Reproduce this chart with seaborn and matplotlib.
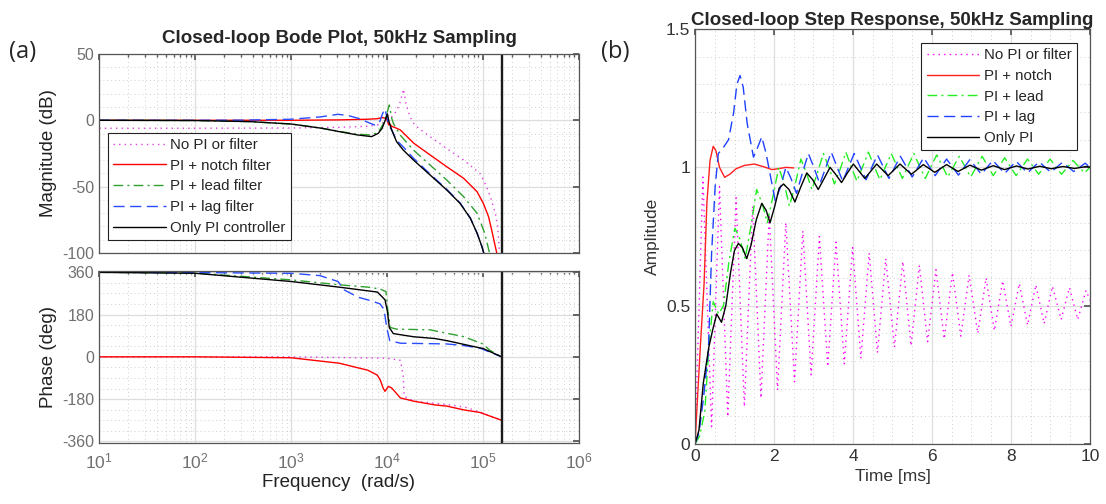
import matplotlib
matplotlib.use("Agg")
import matplotlib.pyplot as plt
import seaborn as sns
from matplotlib.ticker import LogLocator, MultipleLocator, NullFormatter

# ---------------- Bode data (frequency in rad/s) ----------------
nyquist = 157080.0  # pi * 50 kHz

# magnitude (dB)
w_mag_none = [10, 100, 1000, 3162, 6310, 7943, 10000, 11220, 12589, 13804, 14894,
              15849, 17378, 19498, 23988, 28184, 41687, 63096, 93325, 109648,
              123027, 134896, 142889, 147911, 148936]
mag_none = [-6, -6, -5.8, -5.3, -4.5, -3.5, -1, 2.5, 7, 14, 23.5, 12, 2.7, -3.6,
            -8.6, -12.3, -21.1, -29.9, -40, -50, -60, -70, -80, -95, -100]

w_mag_notch = [10, 100, 1000, 3162, 6310, 7943, 8913, 9772, 10000, 10471, 10715,
               11220, 12162, 13804, 19055, 28184, 42073, 63096, 87096, 101391,
               114815, 125893, 134896, 139958]
mag_notch = [0, 0, 0, 0.3, 0.8, 1.2, 2, 1.5, 0.2, -3.5, -3, -4.5, -5.5, -7.3,
             -17.3, -26.1, -35, -43.7, -53.8, -62.6, -72.6, -85, -95, -100]

w_mag_lead = [10, 100, 370, 1000, 2089, 3162, 4898, 6918, 8128, 9120, 9772, 10593,
              11220, 11668, 13709, 18880, 28184, 42073, 63096, 87096, 104713, 117490]
mag_lead = [0, -0.2, -1, -2.8, -6, -8.3, -10.5, -11, -9, -3, 3, 11.5, 1.5, -2.3,
            -11, -22.4, -33.7, -45, -57.6, -70, -85, -100]

w_mag_lag = [10, 100, 300, 1000, 2000, 3090, 3981, 5012, 6310, 7413, 8318, 9120,
             9550, 10000, 10471, 11220, 12589, 14791, 18880, 28184, 42073, 57943,
             74131, 87096, 97724, 102329]
mag_lag = [0, 0, 0.1, 0.8, 2.5, 4.5, 3.5, 1.5, -1.5, -3.5, -2, 6, 8.5, 2, -4,
           -7.3, -15, -20, -28.5, -40.5, -52, -62.3, -73.6, -85, -95, -100]

w_mag_pi = [10, 100, 370, 1000, 2089, 3162, 4898, 6918, 8128, 8913, 9550, 10116,
            10500, 11220, 12589, 14791, 18880, 28184, 42073, 57943, 74131, 87096,
            97724, 102329]
mag_pi = [0, -0.2, -1, -2.8, -6, -8.5, -11, -12.3, -9.8, -6, -0.5, 4.8, -1, -7.3,
          -16, -22.4, -29.9, -41.2, -52.5, -62.6, -73.8, -85, -95, -100]

# phase (deg)
w_ph_none = [10, 100, 1000, 10000, 13804, 14791, 15136, 19055, 42073, 67608,
             100000, 157080]
ph_none = [0, 0, 0, -6, -15, -80, -168, -189, -203, -216, -240, -270]

w_ph_notch = [10, 100, 1000, 3162, 6310, 7943, 8511, 9120, 9550, 10351, 11220,
              13804, 19055, 31623, 42073, 63096, 93325, 151356, 157080]
ph_notch = [0, 0, -4, -27, -57, -78, -98, -133, -147, -126, -133, -175, -189,
            -205, -210, -226, -237, -268, -270]

w_ph_lead = [10, 100, 1000, 3162, 6310, 8511, 9772, 10233, 10839, 12589, 28184,
             63096, 100000, 119399, 157080]
ph_lead = [360, 357, 328, 307, 297, 289, 278, 194, 125, 118, 115, 86, 55, 27, 0]

w_ph_lag = [10, 100, 1000, 2000, 3090, 3548, 5012, 7079, 8511, 9333, 9954, 10715,
            13804, 41687, 63096, 93325, 157080]
ph_lag = [360, 359, 356, 346, 321, 286, 254, 237, 225, 201, 124, 69, 58, 55, 48,
          37, 0]

w_ph_pi = [10, 100, 1000, 3162, 7943, 8511, 9550, 10116, 10593, 11668, 18880,
           31623, 42073, 93325, 100000, 157080]
ph_pi = [360, 356, 321, 297, 276, 264, 243, 194, 124, 99, 85.6, 78, 69, 38, 36, 0]

# ---------------- Step response data (time in ms) ----------------
t_none = [0, 0.2, 0.42, 0.62, 0.83, 1.04, 1.25, 1.46, 1.67, 1.88, 2.09, 2.3, 2.52,
          2.73, 2.94, 3.15, 3.36, 3.57, 3.78, 3.99, 4.2, 4.41, 4.62, 4.83, 5.05,
          5.26, 5.47, 5.68, 5.89, 6.1, 6.31, 6.52, 6.73, 6.94, 7.16, 7.37, 7.58,
          7.79, 8.0, 8.21, 8.42, 8.63, 8.84, 9.05, 9.27, 9.48, 9.69, 9.9, 10.0]
y_none = [0, 0.965, 0.063, 0.93, 0.098, 0.89, 0.135, 0.86, 0.166, 0.83, 0.195,
          0.80, 0.225, 0.77, 0.25, 0.75, 0.28, 0.73, 0.29, 0.71, 0.31, 0.69, 0.33,
          0.67, 0.35, 0.66, 0.355, 0.645, 0.37, 0.63, 0.38, 0.62, 0.39, 0.61, 0.40,
          0.60, 0.41, 0.59, 0.425, 0.58, 0.43, 0.575, 0.435, 0.57, 0.45, 0.565,
          0.45, 0.555, 0.52]

t_notch = [0, 0.13, 0.23, 0.30, 0.38, 0.46, 0.53, 0.62, 0.75, 0.88, 1.04, 1.25,
           1.5, 1.72, 1.95, 2.15, 2.3, 2.5]
y_notch = [0, 0.34, 0.58, 0.87, 1.025, 1.076, 1.06, 1.0, 0.964, 0.975, 0.995,
           1.007, 1.012, 1.003, 0.992, 0.996, 1.0, 0.998]

t_lead = [0, 0.12, 0.25, 0.35, 0.46, 0.6, 0.72, 0.86, 1.01, 1.14, 1.27, 1.42, 1.56,
          1.70, 1.83, 1.98, 2.12, 2.26, 2.39, 2.54, 2.68, 2.82, 2.96, 3.11, 3.25,
          3.39, 3.53, 3.68, 3.82, 3.96, 4.10, 4.39, 4.68, 4.97, 5.25, 5.54, 5.83,
          6.12, 6.40, 6.69, 6.98, 7.27, 7.55, 7.84, 8.13, 8.42, 8.70, 8.99, 9.28,
          9.57, 9.86, 10.0]
y_lead = [0, 0.03, 0.12, 0.35, 0.514, 0.47, 0.5, 0.66, 0.78, 0.74, 0.67, 0.79, 0.92,
          0.87, 0.80, 0.90, 1.0, 0.94, 0.86, 0.94, 1.03, 0.98, 0.92, 0.985, 1.05,
          1.0, 0.94, 0.995, 1.055, 1.0, 0.95, 1.055, 0.955, 1.05, 0.96, 1.05, 0.96,
          1.045, 0.965, 1.04, 0.965, 1.04, 0.97, 1.035, 0.97, 1.03, 0.975, 1.03,
          0.975, 1.025, 0.98, 1.0]

t_lag = [0, 0.1, 0.21, 0.34, 0.42, 0.51, 0.59, 0.71, 0.85, 0.98, 1.06, 1.14, 1.22,
         1.32, 1.48, 1.58, 1.69, 1.8, 2.03, 2.17, 2.3, 2.43, 2.57, 2.72, 2.87, 3.01,
         3.16, 3.3, 3.45, 3.6, 3.74, 4.03, 4.33, 4.62, 4.91, 5.2, 5.5, 5.79, 6.08,
         6.37, 6.67, 6.96, 7.25, 7.54, 7.84, 8.13, 8.42, 8.71, 9.01, 9.3, 9.59,
         9.88, 10.0]
y_lag = [0, 0.04, 0.16, 0.34, 0.69, 0.93, 1.05, 1.07, 1.1, 1.2, 1.3, 1.332, 1.29,
         1.16, 1.037, 1.07, 1.11, 1.05, 0.88, 0.93, 1.0, 0.96, 0.906, 0.98, 1.05,
         1.0, 0.94, 0.995, 1.055, 1.0, 0.95, 1.05, 0.955, 1.045, 0.96, 1.04, 0.965,
         1.035, 0.97, 1.03, 0.972, 1.028, 0.975, 1.025, 0.978, 1.022, 0.98, 1.02,
         0.982, 1.018, 0.985, 1.015, 1.0]

t_pi = [0, 0.1, 0.21, 0.35, 0.46, 0.55, 0.67, 0.78, 0.9, 1.0, 1.10, 1.2, 1.31, 1.42,
        1.55, 1.69, 1.80, 1.90, 2.02, 2.13, 2.24, 2.38, 2.53, 2.68, 2.83, 2.98,
        3.12, 3.27, 3.42, 3.56, 3.71, 3.86, 4.01, 4.30, 4.60, 4.89, 5.19, 5.48,
        5.78, 6.07, 6.37, 6.66, 6.96, 7.25, 7.55, 7.84, 8.14, 8.43, 8.73, 9.02,
        9.32, 9.61, 9.91, 10.0]
y_pi = [0, 0.05, 0.22, 0.35, 0.42, 0.47, 0.44, 0.5, 0.62, 0.7, 0.725, 0.71, 0.67,
        0.72, 0.81, 0.87, 0.845, 0.80, 0.86, 0.925, 0.94, 0.92, 0.875, 0.93, 0.98,
        0.955, 0.92, 0.96, 1.0, 0.975, 0.945, 0.98, 1.012, 0.96, 1.012, 0.97, 1.012,
        0.975, 1.01, 0.982, 1.01, 0.985, 1.008, 0.99, 1.006, 0.992, 1.005, 0.994,
        1.004, 0.995, 1.003, 0.996, 1.003, 1.0]

bode_labels = ["No PI or filter", "PI + notch filter", "PI + lead filter",
               "PI + lag filter", "Only PI controller"]
step_labels = ["No PI or filter", "PI + notch", "PI + lead", "PI + lag", "Only PI"]

# ---------------- styling ----------------
sns.set_theme(style="white")
plt.rcParams['font.family'] = ['Liberation Sans', 'DejaVu Sans']
plt.rcParams['axes.unicode_minus'] = False

DOT = (0, (1, 3))
DASHDOT = (0, (7, 3, 1.5, 3))
DASH = (0, (8, 4))
bode_styles = [("#e040e0", DOT), ("#ff0000", "-"), ("#30a030", DASHDOT),
               ("#2a4cff", DASH), ("#000000", "-")]
step_styles = [("#ff00ff", DOT), ("#ff2020", "-"), ("#22ee22", DASHDOT),
               ("#2040ff", DASH), ("#000000", "-")]

GRID_MAJ = "#dedede"
GRID_MIN = "#cfcfcf"
TICK_GRAY = "#707070"
SPINE = "#555555"

fig = plt.figure(figsize=(11.06, 5.04), dpi=100)
ax_mag = fig.add_axes([0.0898, 0.498, 0.4334, 0.395])
ax_ph = fig.add_axes([0.0898, 0.1216, 0.4334, 0.3413])
ax_st = fig.add_axes([0.6284, 0.119, 0.3571, 0.8234])


def line(ax, x, y, style, label=None, lw=1.0):
    color, ls = style
    sns.lineplot(x=x, y=y, ax=ax, color=color, linestyle=ls, lw=lw, sort=False,
                 estimator=None, label=label, legend=False)


def style_axes(ax, tick_color):
    for s in ax.spines.values():
        s.set_color(SPINE)
        s.set_linewidth(0.9)
    ax.tick_params(which="both", direction="in", top=True, right=True,
                   colors=SPINE, labelcolor=tick_color, labelsize=11.5)
    ax.tick_params(which="major", length=4)
    ax.grid(which="major", color=GRID_MAJ, lw=0.9, ls="-")
    ax.grid(which="minor", color=GRID_MIN, lw=0.7, ls=(0, (1, 3)))
    ax.set_axisbelow(True)


# ----- magnitude -----
for ax in (ax_mag, ax_ph):
    ax.set_xscale("log")

mag_sets = [(w_mag_none, mag_none), (w_mag_notch, mag_notch), (w_mag_lead, mag_lead),
            (w_mag_lag, mag_lag), (w_mag_pi, mag_pi)]
for (w, m), st, lab in zip(mag_sets, bode_styles, bode_labels):
    line(ax_mag, w, m, st, label=lab)
ax_mag.axvline(nyquist, color="k", lw=1.7)
ax_mag.set_xlim(10, 1e6)
ax_mag.set_ylim(-100, 50)
ax_mag.set_yticks([-100, -50, 0, 50])
ax_mag.yaxis.set_minor_locator(MultipleLocator(10))
ax_mag.xaxis.set_major_locator(LogLocator(base=10, numticks=10))
ax_mag.xaxis.set_minor_locator(LogLocator(base=10, subs=range(2, 10), numticks=20))
ax_mag.xaxis.set_major_formatter(NullFormatter())
ax_mag.xaxis.set_minor_formatter(NullFormatter())
style_axes(ax_mag, TICK_GRAY)
ax_mag.tick_params(axis="y", which="minor", length=0)
ax_mag.tick_params(axis="x", which="minor", length=2.5)
ax_mag.set_ylabel("Magnitude (dB)", fontsize=13.5, color="#222222", labelpad=4)
ax_mag.set_xlabel("")
ax_mag.set_title("Closed-loop Bode Plot, 50kHz Sampling", fontsize=13.5,
                 fontweight="bold", pad=8)
leg = ax_mag.legend(loc="upper left", bbox_to_anchor=(0.0976, 0.7367),
                    bbox_transform=fig.transFigure, fontsize=10.8,
                    handlelength=3.5, handletextpad=0.3, labelspacing=0.45,
                    borderpad=0.35, borderaxespad=0, fancybox=False, framealpha=1)
leg.get_frame().set_edgecolor("#222222")
leg.get_frame().set_linewidth(0.8)

# ----- phase -----
ph_sets = [(w_ph_none, ph_none), (w_ph_notch, ph_notch), (w_ph_lead, ph_lead),
           (w_ph_lag, ph_lag), (w_ph_pi, ph_pi)]
for (w, p), st in zip(ph_sets, bode_styles):
    line(ax_ph, w, p, st)
ax_ph.axvline(nyquist, color="k", lw=1.7)
ax_ph.set_xlim(10, 1e6)
ax_ph.set_ylim(-366, 367)
ax_ph.set_yticks([-360, -180, 0, 180, 360])
ax_ph.yaxis.set_minor_locator(MultipleLocator(45))
ax_ph.xaxis.set_major_locator(LogLocator(base=10, numticks=10))
ax_ph.xaxis.set_minor_locator(LogLocator(base=10, subs=range(2, 10), numticks=20))
ax_ph.xaxis.set_minor_formatter(NullFormatter())
style_axes(ax_ph, TICK_GRAY)
ax_ph.tick_params(axis="y", which="minor", length=0)
ax_ph.tick_params(axis="x", which="minor", length=2.5)
ax_ph.tick_params(axis="x", which="major", labelsize=12.5, pad=6)
ax_ph.set_ylabel("Phase (deg)", fontsize=13.5, color="#222222", labelpad=4)
ax_ph.set_xlabel("Frequency  (rad/s)", fontsize=13.5, color="#222222", labelpad=2)

# ----- step response -----
step_sets = [(t_none, y_none), (t_notch, y_notch), (t_lead, y_lead),
             (t_lag, y_lag), (t_pi, y_pi)]
for (t, y), st, lab in zip(step_sets, step_styles, step_labels):
    line(ax_st, t, y, st, label=lab)
ax_st.set_xlim(0, 10)
ax_st.set_ylim(0, 1.5)
ax_st.set_xticks([0, 2, 4, 6, 8, 10])
ax_st.set_yticks([0, 0.5, 1, 1.5])
ax_st.set_yticklabels(["0", "0.5", "1", "1.5"])
ax_st.xaxis.set_minor_locator(MultipleLocator(0.5))
ax_st.yaxis.set_minor_locator(MultipleLocator(0.1))
style_axes(ax_st, "#333333")
ax_st.tick_params(which="minor", length=0)
ax_st.tick_params(axis="both", which="major", labelsize=12.5)
ax_st.set_xlabel("Time [ms]", fontsize=12.5, color="#333333", labelpad=4)
ax_st.set_ylabel("Amplitude", fontsize=12.5, color="#333333", labelpad=4)
ax_st.set_title("Closed-loop Step Response, 50kHz Sampling", fontsize=13.5,
                fontweight="bold", pad=3)
leg2 = ax_st.legend(loc="upper right", bbox_to_anchor=(0.9735, 0.9147),
                    bbox_transform=fig.transFigure, fontsize=10.8,
                    handlelength=3.5, handletextpad=0.3, labelspacing=0.45,
                    borderpad=0.35, borderaxespad=0, fancybox=False, framealpha=1)
leg2.get_frame().set_edgecolor("#222222")
leg2.get_frame().set_linewidth(0.8)

fig.text(0.008, 0.885, "(a)", fontsize=17, family=["Open Sans", "DejaVu Sans"])
fig.text(0.543, 0.885, "(b)", fontsize=17, family=["Open Sans", "DejaVu Sans"])

fig.savefig("out.png", dpi=100, facecolor="white")
